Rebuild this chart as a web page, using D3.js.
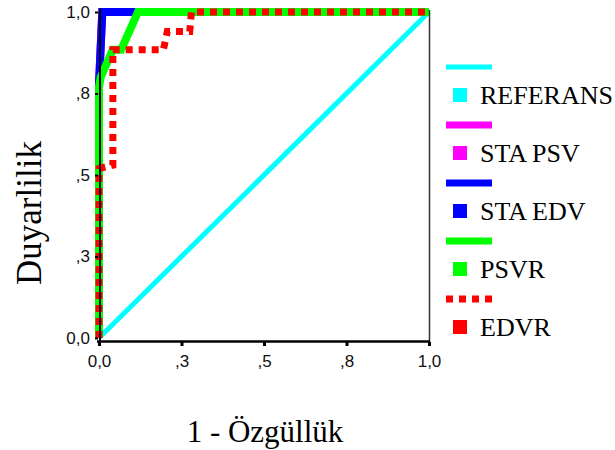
<!DOCTYPE html>
<html>
<head>
<meta charset="utf-8">
<script src="https://cdn.jsdelivr.net/npm/d3@7"></script>
<style>
  html, body { margin: 0; padding: 0; background: #fff; }
  svg { display: block; }
</style>
</head>
<body>
<svg id="chart" width="615" height="450"></svg>
<script>
// ---- data ----
const xTickValues = [0, 0.25, 0.5, 0.75, 1];
const xTickLabels = ["0,0", ",3", ",5", ",8", "1,0"];
const yTickValues = [0, 0.25, 0.5, 0.75, 1];
const yTickLabels = ["0,0", ",3", ",5", ",8", "1,0"];

const seriesNames = ["REFERANS", "STA PSV", "STA EDV", "PSVR", "EDVR"];
const seriesColors = ["#00ffff", "#ff00ff", "#0000ff", "#00ff00", "#ff0000"];

const referansFpr = [0, 1];
const referansTpr = [0, 1];
const staPsvFpr = [0, 0, 0.01, 1];
const staPsvTpr = [0, 0.78, 1, 1];
const staEdvFpr = [0, 0, 0.01, 1];
const staEdvTpr = [0, 0.78, 1, 1];
const psvrFpr = [0, 0, 0.005, 0.042, 0.067, 0.118, 1];
const psvrTpr = [0, 0.77, 0.8, 0.884, 0.884, 1, 1];
const edvrFpr = [0, 0, 0.042, 0.042, 0.195, 0.207, 0.275, 0.28, 1];
const edvrTpr = [0, 0.52, 0.53, 0.884, 0.884, 0.94, 0.94, 1, 1];

const xTitle = "1 - Özgüllük";
const yTitle = "Duyarlilik";

// ---- build ----
const serif = "'Liberation Serif', 'Times New Roman', serif";
const sans = "'Liberation Sans', Arial, sans-serif";

const series = [
  { name: seriesNames[0], color: seriesColors[0], fpr: referansFpr, tpr: referansTpr, width: 5, dash: null },
  { name: seriesNames[1], color: seriesColors[1], fpr: staPsvFpr, tpr: staPsvTpr, width: 8, dash: null },
  { name: seriesNames[2], color: seriesColors[2], fpr: staEdvFpr, tpr: staEdvTpr, width: 8, dash: null },
  { name: seriesNames[3], color: seriesColors[3], fpr: psvrFpr, tpr: psvrTpr, width: 8, dash: null },
  { name: seriesNames[4], color: seriesColors[4], fpr: edvrFpr, tpr: edvrTpr, width: 7, dash: "7,6" }
];

const svg = d3.select("#chart");
const x = d3.scaleLinear().domain([0, 1]).range([99, 429]);
const y = d3.scaleLinear().domain([0, 1]).range([338, 12]);

// curves
const line = d3.line().x(d => x(d[0])).y(d => y(d[1]));
series.forEach(s => {
  const pts = s.fpr.map((v, i) => [v, s.tpr[i]]);
  svg.append("path")
    .attr("d", line(pts))
    .attr("fill", "none")
    .attr("stroke", s.color)
    .attr("stroke-width", s.width)
    .attr("stroke-linejoin", "miter")
    .attr("stroke-dasharray", s.dash);
});

// right border
svg.append("line")
  .attr("x1", x(1) + 0.5).attr("x2", x(1) + 0.5)
  .attr("y1", 10).attr("y2", 342)
  .attr("stroke", "#333").attr("stroke-width", 1.5);

// x axis
const xAxis = d3.axisBottom(x)
  .tickValues(xTickValues)
  .tickFormat((d, i) => xTickLabels[i])
  .tickSizeInner(4).tickSizeOuter(0).tickPadding(9);
const gx = svg.append("g").attr("transform", "translate(0,342)").call(xAxis);
gx.select(".domain").remove();
gx.selectAll(".tick line").attr("stroke", "#000").attr("stroke-width", 3);
gx.selectAll(".tick text")
  .attr("font-family", sans)
  .attr("font-size", 17).attr("fill", "#111");
svg.append("line")
  .attr("x1", 97).attr("x2", x(1) + 1)
  .attr("y1", 341.5).attr("y2", 341.5)
  .attr("stroke", "#000").attr("stroke-width", 2.5);

// y axis
const yAxis = d3.axisLeft(y)
  .tickValues(yTickValues)
  .tickFormat((d, i) => yTickLabels[i])
  .tickSizeInner(3).tickSizeOuter(0).tickPadding(5);
const gy = svg.append("g").attr("transform", "translate(98,0)").call(yAxis);
gy.select(".domain").remove();
gy.selectAll(".tick line").attr("stroke", "#000").attr("stroke-width", 2);
gy.selectAll(".tick text")
  .attr("font-family", sans)
  .attr("font-size", 17).attr("fill", "#111");
svg.append("line")
  .attr("x1", 100).attr("x2", 100)
  .attr("y1", 9).attr("y2", 343)
  .attr("stroke", "#000").attr("stroke-width", 2);

// axis titles
svg.append("text")
  .attr("x", 265).attr("y", 442)
  .attr("text-anchor", "middle")
  .attr("font-family", serif)
  .attr("font-size", 31).attr("fill", "#000")
  .text(xTitle);
svg.append("text")
  .attr("transform", "translate(41,213) rotate(-90)")
  .attr("text-anchor", "middle")
  .attr("font-family", serif)
  .attr("font-size", 35).attr("fill", "#000")
  .text(yTitle);

// legend
const legend = svg.append("g");
series.forEach((s, i) => {
  const top = 67 + i * 58;
  legend.append("line")
    .attr("x1", 446).attr("x2", 492)
    .attr("y1", top).attr("y2", top)
    .attr("stroke", s.color)
    .attr("stroke-width", i === 0 ? 5 : 7)
    .attr("stroke-dasharray", s.dash);
  legend.append("rect")
    .attr("x", 453).attr("y", top + 21)
    .attr("width", 14).attr("height", 14)
    .attr("fill", s.color);
  legend.append("text")
    .attr("x", 480).attr("y", top + 37)
    .attr("font-family", serif)
    .attr("font-size", 26).attr("fill", "#000")
    .text(s.name);
});
</script>
</body>
</html>
